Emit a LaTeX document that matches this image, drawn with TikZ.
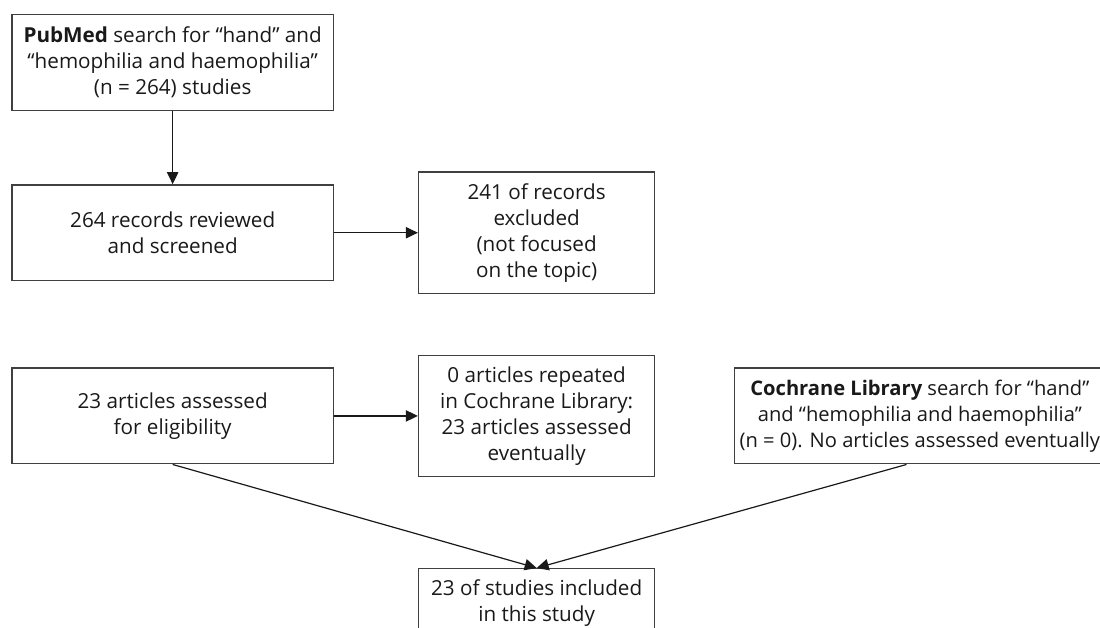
\documentclass[tikz,border=0pt]{standalone}
\usepackage{fontspec}
\setmainfont{Open Sans}
\usepackage{tikz}
\usetikzlibrary{arrows.meta}

\begin{document}
\begin{tikzpicture}[thick]
  % `block' is the plain box of the flow chart.
  % `wide', `narrow' and `search' only fix the sizes of the boxes.
  % `arrow' is used for all connectors.
  \tikzstyle{block} = [draw=black!75,line width=1pt,anchor=center,align=center,inner sep=0pt,text=black!90,font=\fontsize{15.5}{19.5}\selectfont]
  \tikzstyle{wide} = [block,minimum width=241.2pt,minimum height=71.8pt]
  \tikzstyle{narrow} = [block,minimum width=177.2pt,minimum height=91.1pt]
  \tikzstyle{search} = [block,minimum width=278pt,minimum height=71.8pt,font=\fontsize{15.1}{19.5}\selectfont]
  \tikzstyle{arrow} = [-{Triangle[length=9pt,width=8.5pt]},line width=0.9pt,black!90]
  %
  \useasboundingbox (0,0) rectangle (825pt,-471pt);
  \clip (0,0) rectangle (825pt,-471pt);
  \matrix[row sep=45.3pt, column sep=62.8pt, inner sep=0pt, anchor=north west] (chart) at (8pt,-10pt) {
  % First row.
  \node[wide] (pubmed) {\textbf{PubMed} search for “hand” and\\“hemophilia and haemophilia”\\(n = 264) studies}; \\
  % Second row.
  \node[wide] (screened) {264 records reviewed\\and screened}; &
  \node[narrow] (excluded) {241 of records\\excluded\\(not focused\\on the topic)}; \\
  % Third row.
  \node[wide] (assessed) {23 articles assessed\\for eligibility}; &
  \node[narrow] (repeated) {0 articles repeated\\in Cochrane Library:\\23 articles assessed\\eventually}; &[-4pt]
  \node[search] (cochrane) {\textbf{Cochrane Library} search for “hand”\\and “hemophilia and haemophilia”\\(n = 0). No articles assessed eventually}; \\[22.7pt]
  % Fourth row.
  &
  \node[block,minimum width=177.2pt,minimum height=51.5pt] (included) {23 of studies included\\in this study}; \\
  };
  %
  \draw[arrow] (pubmed) -- (screened);
  \draw[arrow] (screened) -- (excluded);
  \draw[arrow] (assessed) -- (repeated);
  \draw[arrow] (assessed.south) -- (included.north);
  \draw[arrow] ([xshift=-10pt]cochrane.south) -- (included.north);
\end{tikzpicture}
\end{document}
